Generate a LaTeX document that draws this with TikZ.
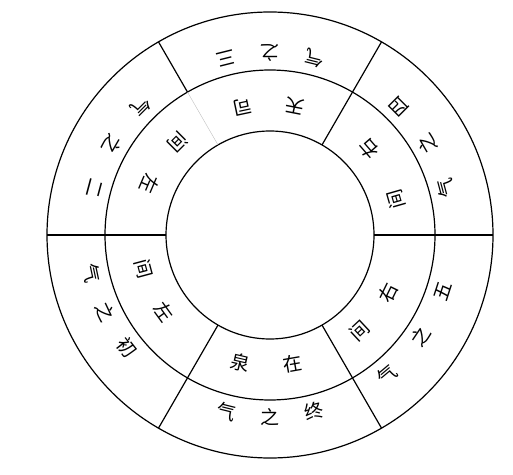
\documentclass[tikz,border=0pt]{standalone}
\usepackage{fontspec}
\newfontfamily\cjk{Noto Sans CJK SC}

\begin{document}
\begin{tikzpicture}[x=1pt,y=1pt,
        ring/.style={line width=1.2pt},
        faint/.style={line width=0.4pt, black!25},
        zi/.style={font=\cjk\fontsize{19}{19}\selectfont, inner sep=0pt}]
            \useasboundingbox (0,0) rectangle (513,474);
            \coordinate (c) at (270,239);
            \draw[ring] (c) circle (223);
            \draw[ring] (c) circle (165);
            \draw[ring] (c) circle (104);
            \foreach \a in {0,60,180,240,300}
                \draw[ring] ([shift={(\a:104)}]c) -- ([shift={(\a:223)}]c);
            \draw[ring] ([shift={(120:165)}]c) -- ([shift={(120:223)}]c);
            \draw[faint] ([shift={(120:104)}]c) -- ([shift={(120:165)}]c);
            \foreach \a/\z [count=\i] in {104/三, 90/之, 76/气,
                                          45/四, 30/之, 15/气,
                                          342/五, 326/之, 310/气,
                                          284/终, 270/之, 256/气,
                                          218/初, 205/之, 192/气,
                                          165/二, 150/之, 135/气}
                \node[zi, rotate=\a+90] (qi\i) at ([shift={(\a:182)}]c) {\z};
            \foreach \a/\z [count=\i] in {102/司, 79/天,
                                          41/右, 16/间,
                                          334/右, 313/间,
                                          280/在, 257/泉,
                                          216/左, 195/间,
                                          157/左, 135/间}
                \node[zi, rotate=\a+90] (wei\i) at ([shift={(\a:131)}]c) {\z};
        \end{tikzpicture}
\end{document}
